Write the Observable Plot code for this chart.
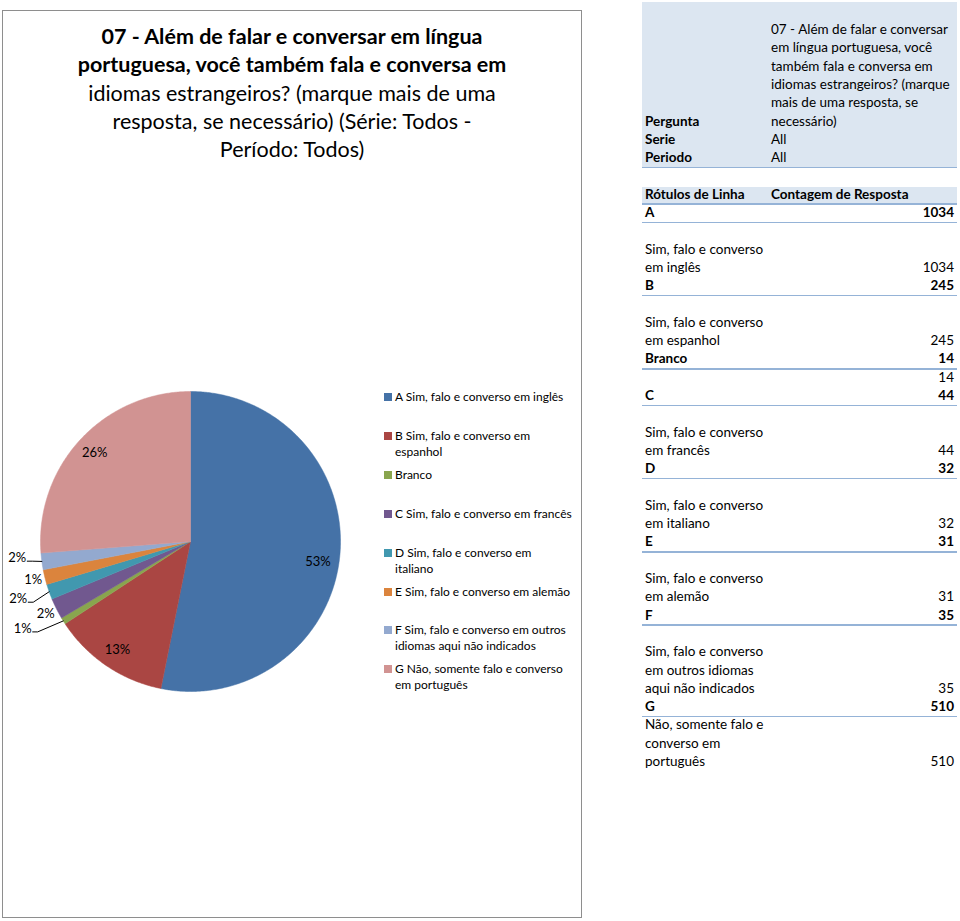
<!DOCTYPE html>
<html><head><meta charset="utf-8">
<script src="https://cdn.jsdelivr.net/npm/d3@7"></script>
<script src="https://cdn.jsdelivr.net/npm/@observablehq/plot@0.6"></script>
<style>
html,body{margin:0;padding:0;background:#fff}
body{width:960px;height:921px;position:relative;overflow:hidden;font-family:Lato,"Liberation Sans",sans-serif;color:#000}
.abs{position:absolute;white-space:nowrap;line-height:1}
#frame{position:absolute;left:2px;top:10px;width:580px;height:908px;border:1px solid #8e8e8e;box-sizing:border-box}
.title{font-size:21.5px;text-align:center;width:580px;left:2px;transform:translateY(-50%)}
.leg{font-size:12px;transform:translateY(-50%)}
.tb{font-size:13.5px;transform:translateY(-50%)}
.r{text-align:right}
.b{font-weight:bold}
</style></head>
<body>
<div id="frame"></div>
<div id="root"></div>
<script>
// ---- data ----
const categories = ["A","B","Branco","C","D","E","F","G"];
const counts = [1034,245,14,44,32,31,35,510];
const colors = ["#4572A7","#AA4643","#89A54E","#71588F","#4198AF","#DB843D","#93A9CF","#D19392"];
const pctLabels = ["53%","13%","1%","2%","2%","1%","2%","26%"];
const legendLabels = [
  ["A Sim, falo e converso em inglês"],
  ["B Sim, falo e converso em","espanhol"],
  ["Branco"],
  ["C Sim, falo e converso em francês"],
  ["D Sim, falo e converso em","italiano"],
  ["E Sim, falo e converso em alemão"],
  ["F Sim, falo e converso em outros","idiomas aqui não indicados"],
  ["G Não, somente falo e converso","em português"]
];
const subLabels = [
  ["Sim, falo e converso","em inglês"],
  ["Sim, falo e converso","em espanhol"],
  [],
  ["Sim, falo e converso","em francês"],
  ["Sim, falo e converso","em italiano"],
  ["Sim, falo e converso","em alemão"],
  ["Sim, falo e converso","em outros idiomas","aqui não indicados"],
  ["Não, somente falo e","converso em","português"]
];
const titleLines = [
  "07 - Além de falar e conversar em língua",
  "portuguesa, você também fala e conversa em",
  "idiomas estrangeiros? (marque mais de uma",
  "resposta, se necessário) (Série: Todos -",
  "Período: Todos)"
];
const questionLines = [
  "07 - Além de falar e conversar",
  "em língua portuguesa, você",
  "também fala e conversa em",
  "idiomas estrangeiros? (marque",
  "mais de uma resposta, se",
  "necessário)"
];
const filterLabels = ["Pergunta","Serie","Periodo"];
const filterValues = ["", "All", "All"];
const headerLabels = ["Rótulos de Linha","Contagem de Resposta"];

// ---- layout / style ----
const subRowLines = [3,3,1,3,3,3,4,3];
const labelR = [0.86,0.87,1.26,1.08,1.21,1.08,1.16,0.87];
const labelNudge = [3.2,0,4.6,0,1.2,0,2.3,0];
const leader = [false,false,true,false,true,false,true,false];

const root = document.getElementById("root");
function addText(txt, x, y, cls, extra) {
  const d = document.createElement("div");
  d.className = "abs " + cls;
  d.textContent = txt;
  d.style.top = y + "px";
  if (x != null) d.style.left = x + "px";
  if (extra) Object.assign(d.style, extra);
  root.appendChild(d);
  return d;
}
function addRect(x, y, w, h, color) {
  const d = document.createElement("div");
  Object.assign(d.style, {position:"absolute", left:x+"px", top:y+"px", width:w+"px", height:h+"px", background:color});
  root.appendChild(d);
}

// title
titleLines.forEach((t, i) => addText(t, null, 37 + i*28.3, "title" + (i < 2 ? " b" : ""), {left:"2px"}));

// ---- pie ----
const total = d3.sum(counts);
let acc = 0;
const slices = categories.map((c, i) => {
  const a0 = acc / total * 360; acc += counts[i];
  const a1 = acc / total * 360;
  return {c, i, a0, a1, mid: (a0 + a1) / 2};
});
const rad = a => a * Math.PI / 180;
const polyPts = [];
for (const s of slices) {
  polyPts.push({k: s.c, x: 0, y: 0});
  const n = Math.max(2, Math.ceil((s.a1 - s.a0) / 0.5));
  for (let j = 0; j <= n; j++) {
    const a = rad(s.a0 + (s.a1 - s.a0) * j / n);
    polyPts.push({k: s.c, x: Math.sin(a), y: Math.cos(a)});
  }
  polyPts.push({k: s.c, x: 0, y: 0});
}
const labels = slices.map(s => {
  const a = rad(s.mid + labelNudge[s.i]);
  return {t: pctLabels[s.i], x: labelR[s.i]*Math.sin(a), y: labelR[s.i]*Math.cos(a)};
});
const px = 1/150;
const leaders = [];
slices.forEach(s => {
  if (!leader[s.i]) return;
  const L = labels[s.i];
  const a = rad(s.mid);
  leaders.push({k: s.c, x: L.x + 10*px, y: L.y - 3.5*px});
  leaders.push({k: s.c, x: L.x + 15*px, y: L.y - 3.5*px});
  leaders.push({k: s.c, x: Math.sin(a), y: Math.cos(a)});
});

const W = 360, H = 330;
const cxp = 190, cyp = 161; // center within svg
const chart = Plot.plot({
  width: W, height: H, margin: 0,
  x: {domain: [-cxp/150, (W-cxp)/150], axis: null},
  y: {domain: [-(H-cyp)/150, cyp/150], axis: null},
  color: {domain: categories, range: colors},
  style: {background: "transparent", overflow: "visible"},
  marks: [
    Plot.line(polyPts, {x: "x", y: "y", z: "k", fill: "k", stroke: "k", strokeWidth: 0.5}),
    Plot.line(leaders, {x: "x", y: "y", z: "k", stroke: "#000", strokeWidth: 1}),
    Plot.text(labels, {x: "x", y: "y", text: "t", fontSize: 13, fill: "#000", fontFamily: "Lato, sans-serif"})
  ]
});
chart.style.position = "absolute";
chart.style.left = "0px";
chart.style.top = (541 - cyp) + "px";
root.appendChild(chart);

// ---- legend ----
legendLabels.forEach((lines, i) => {
  const y0 = 397 + i*38.9;
  addRect(384, y0 - 4, 8, 8, colors[i]);
  lines.forEach((t, j) => addText(t, 395, y0 + j*16, "leg"));
});

// ---- pivot table ----
const L = 18.3, rowY = r => 30 + r*L;
const X0 = 642, X1 = 957, XL = 645, XC = 771, XR = 954;
addRect(X0, 2, X1 - X0, rowY(7) + L/2 - 2, "#dce6f1");
addRect(X0, rowY(7) + L/2 - 0.5, X1 - X0, 1.5, "#95b3d7");
addRect(X0, rowY(9) - L/2 + 1, X1 - X0, L - 1, "#dce6f1");
addRect(X0, rowY(9) + L/2 - 0.5, X1 - X0, 1.5, "#95b3d7");
questionLines.forEach((t, i) => addText(t, XC, rowY(i), "tb"));
filterLabels.forEach((t, i) => {
  addText(t, XL, rowY(5 + i), "tb b");
  if (filterValues[i]) addText(filterValues[i], XC, rowY(5 + i), "tb");
});
addText(headerLabels[0], XL, rowY(9), "tb b");
addText(headerLabels[1], XC, rowY(9), "tb b");
let r = 10;
categories.forEach((c, i) => {
  const y = rowY(r);
  addText(c, XL, y, "tb b");
  addText(String(counts[i]), null, y, "tb b r", {right: (960 - XR) + "px"});
  addRect(X0, y + L/2 - 0.5, X1 - X0, 1.5, "#95b3d7");
  const n = subRowLines[i];
  const sl = subLabels[i];
  sl.forEach((t, j) => addText(t, XL, rowY(r + n - sl.length + 1 + j), "tb"));
  addText(String(counts[i]), null, rowY(r + n), "tb r", {right: (960 - XR) + "px"});
  r += n + 1;
});
</script>
</body></html>
